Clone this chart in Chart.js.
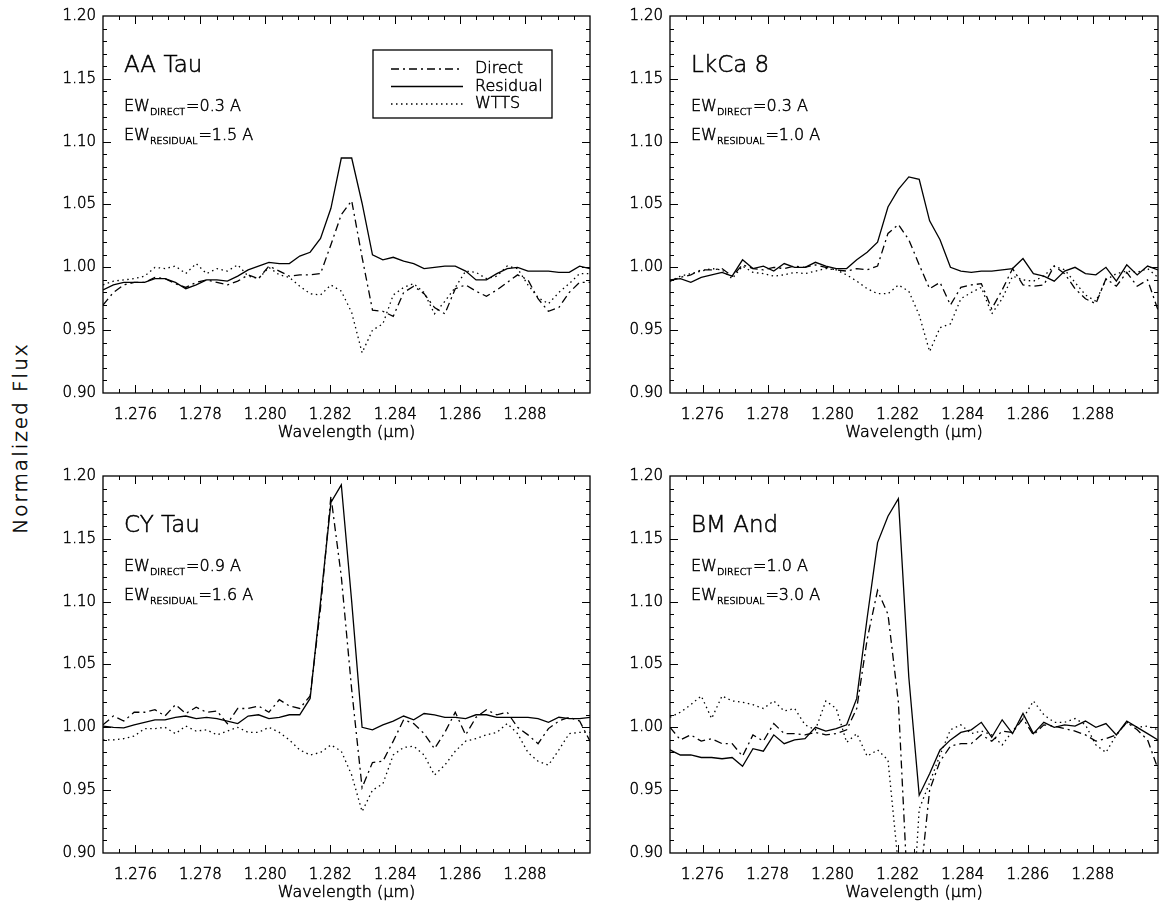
<!DOCTYPE html>
<html lang="en">
<head>
  <meta charset="UTF-8" />
  <title>Pa beta line profiles</title>
  <script src="https://cdn.jsdelivr.net/npm/chart.js"></script>
  <style>
    body {
      margin: 0;
      width: 1159px;
      height: 907px;
      position: relative;
      overflow: hidden;
      background: #fff;
      font-family: 'DejaVu Sans', sans-serif;
    }
    .panel { position: absolute; }
    #ylab {
      position: absolute;
      left: 20px;
      top: 438px;
      transform: translate(-50%, -50%) rotate(-90deg);
      font-size: 20px;
      font-weight: 200;
      letter-spacing: 2px;
      white-space: nowrap;
      color: #000;
      -webkit-text-stroke: 0.5px #000;
    }
  </style>
</head>
<body>
  <div id="ylab">Normalized Flux</div>
  <div class="panel" style="left:40px;top:0"><canvas id="c0" width="560" height="447"></canvas></div>
  <div class="panel" style="left:607px;top:0"><canvas id="c1" width="552" height="447"></canvas></div>
  <div class="panel" style="left:40px;top:460px"><canvas id="c2" width="560" height="447"></canvas></div>
  <div class="panel" style="left:607px;top:460px"><canvas id="c3" width="552" height="447"></canvas></div>

  <script>
    // wavelength grid (micron), shared by all spectra
    const WAVE = [1.27500, 1.27532, 1.27564, 1.27596, 1.27628, 1.27660, 1.27691, 1.27723, 1.27755, 1.27787,
                  1.27819, 1.27851, 1.27883, 1.27915, 1.27947, 1.27979, 1.28011, 1.28043, 1.28074, 1.28106,
                  1.28138, 1.28170, 1.28202, 1.28234, 1.28266, 1.28298, 1.28330, 1.28362, 1.28394, 1.28426,
                  1.28457, 1.28489, 1.28521, 1.28553, 1.28585, 1.28617, 1.28649, 1.28681, 1.28713, 1.28745,
                  1.28777, 1.28809, 1.28840, 1.28872, 1.28904, 1.28936, 1.28968, 1.29000];

    const X_TICKS = [1.276, 1.278, 1.280, 1.282, 1.284, 1.286, 1.288];
    const Y_TICKS = [0.90, 0.95, 1.00, 1.05, 1.10, 1.15, 1.20];

    // AA Tau
    const AA_DIRECT = [0.970, 0.980, 0.986, 0.988, 0.988, 0.992, 0.991, 0.987, 0.984, 0.988,
                       0.990, 0.988, 0.986, 0.989, 0.994, 0.991, 1.001, 0.997, 0.993, 0.994,
                       0.994, 0.995, 1.018, 1.042, 1.053, 1.008, 0.966, 0.965, 0.961, 0.980,
                       0.985, 0.979, 0.968, 0.963, 0.983, 0.986, 0.981, 0.977, 0.982, 0.988,
                       0.994, 0.990, 0.975, 0.965, 0.968, 0.980, 0.988, 0.988];
    const AA_RESID = [0.982, 0.986, 0.988, 0.988, 0.988, 0.991, 0.991, 0.988, 0.983, 0.986,
                      0.990, 0.990, 0.989, 0.993, 0.998, 1.001, 1.004, 1.003, 1.003, 1.009,
                      1.012, 1.023, 1.047, 1.087, 1.087, 1.051, 1.010, 1.006, 1.008, 1.005,
                      1.003, 0.999, 1.000, 1.001, 1.001, 0.997, 0.990, 0.990, 0.995, 0.999,
                      1.000, 0.997, 0.997, 0.997, 0.996, 0.996, 1.001, 0.999];
    const AA_WTTS = [0.986, 0.989, 0.990, 0.991, 0.993, 1.000, 0.999, 1.001, 0.995, 1.003,
                     0.995, 0.999, 0.997, 1.002, 0.993, 0.991, 1.000, 0.994, 0.992, 0.985,
                     0.979, 0.978, 0.986, 0.981, 0.964, 0.932, 0.950, 0.955, 0.978, 0.984,
                     0.987, 0.980, 0.963, 0.973, 0.984, 0.997, 0.996, 0.991, 0.993, 1.001,
                     0.999, 0.986, 0.976, 0.971, 0.980, 0.987, 0.995, 0.995];

    // LkCa 8
    const LK_DIRECT = [0.989, 0.992, 0.994, 0.998, 0.998, 0.999, 0.993, 1.002, 0.999, 0.998,
                       1.000, 0.999, 1.001, 1.000, 1.002, 1.000, 0.998, 0.997, 0.999, 0.998,
                       1.001, 1.027, 1.034, 1.022, 1.002, 0.983, 0.988, 0.970, 0.984, 0.986,
                       0.987, 0.967, 0.982, 0.999, 0.986, 0.985, 0.986, 1.001, 0.995, 0.983,
                       0.975, 0.971, 0.991, 0.985, 0.996, 0.985, 0.990, 0.966];
    const LK_RESID = [0.990, 0.991, 0.988, 0.992, 0.994, 0.996, 0.993, 1.006, 0.999, 1.001,
                      0.997, 1.003, 1.000, 1.000, 1.004, 1.001, 0.999, 0.999, 1.006, 1.012,
                      1.020, 1.048, 1.062, 1.072, 1.070, 1.037, 1.022, 1.000, 0.997, 0.996,
                      0.997, 0.997, 0.998, 0.999, 1.007, 0.995, 0.993, 0.989, 0.997, 1.000,
                      0.995, 0.994, 1.000, 0.989, 1.002, 0.994, 1.001, 0.998];
    const LK_WTTS = [0.989, 0.993, 0.995, 0.997, 0.999, 0.998, 0.991, 1.001, 0.996, 0.995,
                     0.993, 0.994, 0.996, 0.995, 0.997, 0.999, 0.998, 0.994, 0.989, 0.983,
                     0.979, 0.979, 0.986, 0.981, 0.962, 0.933, 0.952, 0.955, 0.975, 0.980,
                     0.984, 0.963, 0.975, 0.993, 0.990, 0.989, 0.993, 1.001, 0.998, 0.988,
                     0.978, 0.973, 0.990, 0.995, 0.997, 0.996, 0.999, 0.992];

    // CY Tau
    const CY_DIRECT = [1.002, 1.009, 1.005, 1.012, 1.012, 1.014, 1.009, 1.018, 1.011, 1.016,
                       1.012, 1.013, 1.003, 1.015, 1.015, 1.017, 1.012, 1.022, 1.017, 1.015,
                       1.025, 1.095, 1.184, 1.120, 1.030, 0.952, 0.972, 0.973, 0.989, 1.006,
                       1.003, 0.995, 0.983, 0.996, 1.012, 0.994, 1.008, 1.014, 1.010, 1.012,
                       1.000, 0.994, 0.987, 0.999, 1.005, 1.008, 1.005, 0.989];
    const CY_RESID = [1.001, 1.000, 0.9995, 1.002, 1.004, 1.006, 1.006, 1.008, 1.009, 1.007,
                      1.008, 1.007, 1.005, 1.003, 1.009, 1.010, 1.007, 1.008, 1.010, 1.010,
                      1.023, 1.100, 1.179, 1.193, 1.100, 1.000, 0.998, 1.002, 1.005, 1.009,
                      1.006, 1.011, 1.010, 1.008, 1.008, 1.007, 1.010, 1.010, 1.008, 1.008,
                      1.008, 1.008, 1.007, 1.004, 1.008, 1.007, 1.007, 1.008];
    const CY_WTTS = [0.990, 0.990, 0.991, 0.993, 0.999, 0.999, 1.000, 0.995, 1.001, 0.997,
                     0.998, 0.994, 0.997, 1.000, 0.996, 0.996, 1.000, 0.996, 0.990, 0.982,
                     0.978, 0.980, 0.986, 0.981, 0.962, 0.933, 0.950, 0.955, 0.978, 0.984,
                     0.985, 0.978, 0.962, 0.970, 0.981, 0.989, 0.991, 0.994, 0.996, 1.003,
                     0.995, 0.980, 0.973, 0.970, 0.982, 0.995, 0.996, 0.996];

    // BM And
    const BM_DIRECT = [1.000, 0.990, 0.994, 0.989, 0.991, 0.987, 0.987, 0.977, 0.994, 0.989,
                       1.003, 0.995, 0.995, 0.994, 0.996, 0.994, 0.995, 0.998, 1.015, 1.070,
                       1.109, 1.090, 1.020, 0.850, 0.870, 0.950, 0.973, 0.985, 0.987, 0.987,
                       0.994, 0.989, 0.997, 0.996, 1.007, 0.994, 1.002, 1.001, 0.999, 0.997,
                       0.994, 0.989, 0.991, 0.994, 1.004, 0.998, 0.990, 0.967];
    const BM_RESID = [0.982, 0.978, 0.978, 0.976, 0.976, 0.975, 0.976, 0.969, 0.983, 0.981,
                      0.994, 0.987, 0.990, 0.991, 1.000, 0.997, 0.999, 1.002, 1.023, 1.087,
                      1.147, 1.168, 1.182, 1.040, 0.946, 0.963, 0.982, 0.990, 0.996, 0.998,
                      1.004, 0.992, 1.006, 0.995, 1.011, 0.995, 1.004, 1.000, 1.002, 1.001,
                      1.005, 1.000, 1.003, 0.994, 1.005, 1.000, 0.995, 0.990];
    const BM_WTTS = [1.008, 1.012, 1.018, 1.025, 1.007, 1.025, 1.021, 1.020, 1.018, 1.015,
                     1.021, 1.013, 1.015, 1.002, 0.998, 1.021, 1.015, 0.988, 0.995, 0.977,
                     0.982, 0.974, 0.890, 0.800, 0.935, 0.956, 0.978, 0.998, 1.002, 0.995,
                     0.997, 0.994, 0.986, 0.997, 1.007, 1.021, 1.010, 1.004, 1.004, 1.007,
                     1.002, 0.986, 0.980, 0.994, 1.004, 1.000, 1.001, 0.998];

    const PANELS = [
      { id: 'c0', star: 'AA Tau', ewDirect: '0.3', ewResid: '1.5', d: AA_DIRECT, r: AA_RESID, w: AA_WTTS, legend: true,  padRight: 10 },
      { id: 'c1', star: 'LkCa 8', ewDirect: '0.3', ewResid: '1.0', d: LK_DIRECT, r: LK_RESID, w: LK_WTTS, legend: false, padRight: 1 },
      { id: 'c2', star: 'CY Tau', ewDirect: '0.9', ewResid: '1.6', d: CY_DIRECT, r: CY_RESID, w: CY_WTTS, legend: false, padRight: 10 },
      { id: 'c3', star: 'BM And', ewDirect: '1.0', ewResid: '3.0', d: BM_DIRECT, r: BM_RESID, w: BM_WTTS, legend: false, padRight: 1 }
    ];

    const FAMILY = "'DejaVu Sans', sans-serif";
    const WEIGHT = '200';
    const STROKE = 0.5;   // thickens the thin face a little, IDL-like
    const font = (size) => `${WEIGHT} ${size}px ${FAMILY}`;

    const DASH_DOT = [8, 4, 2, 4];
    const DOTTED = [1.5, 3.5];

    const toPoints = (ys) => ys.map((v, i) => ({ x: WAVE[i], y: v }));

    // IDL-like box: frame, inward ticks, star label, EW values, legend, x title
    const idlBox = {
      id: 'idlBox',
      afterDatasetsDraw(chart, args, opts) {
        const { ctx, chartArea: a, scales: { x, y } } = chart;
        ctx.save();
        ctx.strokeStyle = '#000';
        ctx.fillStyle = '#000';
        ctx.lineWidth = 1.3;
        ctx.setLineDash([]);
        ctx.strokeRect(a.left, a.top, a.right - a.left, a.bottom - a.top);

        ctx.lineWidth = 1;
        const seg = (x1, y1, x2, y2) => { ctx.beginPath(); ctx.moveTo(x1, y1); ctx.lineTo(x2, y2); ctx.stroke(); };
        // x ticks every 0.0005, major every 0.002
        for (let i = 1; i < 30; i++) {
          const v = 1.275 + i * 0.0005;
          const major = X_TICKS.some(t => Math.abs(t - v) < 1e-7);
          const len = major ? 8 : 4;
          const px = Math.round(x.getPixelForValue(v)) + 0.5;
          seg(px, a.bottom, px, a.bottom - len);
          seg(px, a.top, px, a.top + len);
        }
        // y ticks every 0.01, major every 0.05
        for (let i = 1; i < 30; i++) {
          const v = 0.90 + i * 0.01;
          const major = i % 5 === 0;
          const len = major ? 8 : 4;
          const py = Math.round(y.getPixelForValue(v)) + 0.5;
          seg(a.left, py, a.left + len, py);
          seg(a.right, py, a.right - len, py);
        }

        const text = (s, tx, ty) => {
          ctx.lineWidth = STROKE;
          ctx.fillText(s, tx, ty);
          ctx.strokeText(s, tx, ty);
        };

        // x axis title
        ctx.font = font(16);
        ctx.textAlign = 'center';
        ctx.textBaseline = 'middle';
        text('Wavelength (μm)', (a.left + a.right) / 2, a.bottom + 40);

        // star name and equivalent widths
        const tx = a.left + 21;
        ctx.textBaseline = 'alphabetic';
        ctx.textAlign = 'left';
        ctx.font = font(23);
        text(opts.star, tx, a.top + 56);

        const ew = (sub, val, by) => {
          ctx.font = font(16);
          text('EW', tx, by);
          let w = ctx.measureText('EW').width;
          ctx.font = font(9.5);
          text(sub, tx + w, by + 4);
          w += ctx.measureText(sub).width + 1;
          ctx.font = font(16);
          text('=' + val + ' A', tx + w, by);
        };
        ew('DIRECT', opts.ewDirect, a.top + 95);
        ew('RESIDUAL', opts.ewResid, a.top + 124);

        if (opts.legend) {
          const bx = a.left + 270, by = a.top + 34, bw = 179, bh = 68;
          ctx.lineWidth = 1.3;
          ctx.strokeRect(bx, by, bw, bh);
          ctx.font = font(16);
          ctx.textBaseline = 'middle';
          chart.data.datasets.forEach((ds, i) => {
            const ry = by + 19 + i * 17.5;
            ctx.lineWidth = ds.borderWidth;
            ctx.setLineDash(ds.borderDash);
            seg(bx + 18, ry, bx + 90, ry);
            ctx.setLineDash([]);
            text(ds.label, bx + 102, ry);
          });
        }
        ctx.restore();
      }
    };

    const tickFont = { family: FAMILY, size: 15, weight: WEIGHT };

    PANELS.forEach(p => {
      new Chart(document.getElementById(p.id), {
        type: 'line',
        data: {
          datasets: [
            { label: 'Direct',   data: toPoints(p.d), borderDash: DASH_DOT },
            { label: 'Residual', data: toPoints(p.r), borderDash: [] },
            { label: 'WTTS',     data: toPoints(p.w), borderDash: DOTTED }
          ].map(ds => Object.assign(ds, {
            borderColor: '#000', borderWidth: 1.3, pointRadius: 0, tension: 0, fill: false, clip: 0
          }))
        },
        options: {
          responsive: false,
          animation: false,
          layout: { padding: { top: 9, right: p.padRight, left: 0, bottom: 0 } },
          plugins: {
            legend: { display: false },
            tooltip: { enabled: false },
            idlBox: { star: p.star, ewDirect: p.ewDirect, ewResid: p.ewResid, legend: p.legend }
          },
          scales: {
            x: {
              type: 'linear', min: 1.275, max: 1.290,
              afterBuildTicks: s => { s.ticks = X_TICKS.map(v => ({ value: v })); },
              afterFit: s => { s.height = 54; },
              grid: { display: false, drawTicks: false },
              border: { display: false },
              ticks: {
                padding: 13, color: '#000', autoSkip: false, maxRotation: 0,
                textStrokeColor: '#000', textStrokeWidth: STROKE,
                font: tickFont,
                callback: v => Number(v).toFixed(3)
              }
            },
            y: {
              type: 'linear', min: 0.90, max: 1.20,
              afterBuildTicks: s => { s.ticks = Y_TICKS.map(v => ({ value: v })); },
              afterFit: s => { s.width = 63; },
              grid: { display: false, drawTicks: false },
              border: { display: false },
              ticks: {
                padding: 7, color: '#000',
                textStrokeColor: '#000', textStrokeWidth: STROKE,
                font: tickFont,
                callback: v => Number(v).toFixed(2)
              }
            }
          }
        },
        plugins: [idlBox]
      });
    });
  </script>
</body>
</html>
